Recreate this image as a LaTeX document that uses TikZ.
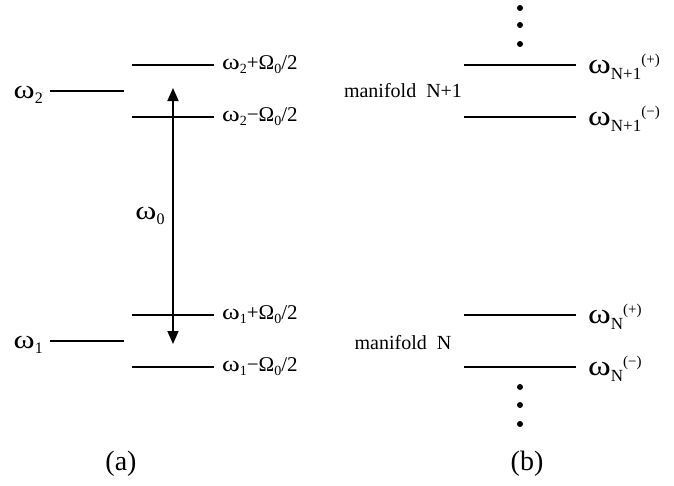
\documentclass[tikz,border=0pt]{standalone}
\usepackage{fontspec}
\usepackage{graphicx}
\setmainfont{Liberation Serif}
\usetikzlibrary{arrows.meta}
\newcommand{\fs}[1]{\fontsize{#1}{#1}\selectfont}
\newcommand{\om}{\scalebox{1.28}[1.05]{ω}}
\newcommand{\lsub}[1]{\raisebox{-4pt}{\fs{14}#1}}
\newcommand{\bsub}[1]{\raisebox{-6pt}{\fs{17}#1}}
\newcommand{\bsup}[1]{\raisebox{9pt}{\fs{15}#1}}
\tikzset{
  thick level/.style={line width=2.8pt},
  thin level/.style={line width=2.0pt},
  lbl/.style={anchor=west, inner sep=0pt, font=\fs{21}},
  rlbl/.style={anchor=west, inner sep=0pt, font=\fs{27}},
  mani/.style={inner sep=0pt, font=\fs{20}},
  dot/.style={circle, fill=black, inner sep=0pt, minimum size=6pt},
  trans/.style={line width=1.7pt, {Triangle[length=13pt,width=11pt]}-{Triangle[length=13pt,width=11pt]}},
  capt/.style={inner sep=0pt, font=\fs{28}}
}
\begin{document}
\begin{tikzpicture}[x=1pt,y=-1pt]
\useasboundingbox (0,0) rectangle (674,485);
% ---- (a) ----
\coordinate (u1) at (132,65);  \coordinate (u2) at (214,65);
\coordinate (w2a) at (50,91);  \coordinate (w2b) at (124,91);
\coordinate (l1) at (132,117); \coordinate (l2) at (214,117);
\coordinate (p1) at (132,315); \coordinate (p2) at (214,315);
\coordinate (w1a) at (50,341); \coordinate (w1b) at (124,341);
\coordinate (m1) at (132,367); \coordinate (m2) at (214,367);
\draw[thick level] (u1) -- (u2);
\draw[thin level] (w2a) -- (w2b);
\draw[thin level] (l1) -- (l2);
\draw[thick level] (p1) -- (p2);
\draw[thin level] (w1a) -- (w1b);
\draw[thin level] (m1) -- (m2);
\coordinate (atop) at (173,88);
\coordinate (abot) at (173,344);
\draw[trans] (abot) -- (atop);
\node[lbl] (lu) at ([xshift=8pt]u2) {\om\lsub{2}+Ω\lsub{0}/2};
\node[lbl] (ll) at ([xshift=8pt]l2) {\om\lsub{2}−Ω\lsub{0}/2};
\node[lbl] (lp) at ([xshift=8pt]p2) {\om\lsub{1}+Ω\lsub{0}/2};
\node[lbl] (lm) at ([xshift=8pt]m2) {\om\lsub{1}−Ω\lsub{0}/2};
\node[inner sep=0pt, font=\fs{25}, anchor=east] (w2) at ([xshift=-7pt,yshift=-4pt]w2a) {\om\raisebox{-5pt}{\fs{16}2}};
\node[inner sep=0pt, font=\fs{25}, anchor=east] (w1) at ([xshift=-7pt,yshift=-4pt]w1a) {\om\raisebox{-5pt}{\fs{16}1}};
\node[inner sep=0pt, font=\fs{25}] (w0) at (150,216) {\om\raisebox{-5pt}{\fs{16}0}};
% ---- (b) ----
\coordinate (a1) at (464,65);  \coordinate (a2) at (576,65);
\coordinate (b1) at (464,117); \coordinate (b2) at (576,117);
\coordinate (c1) at (464,315); \coordinate (c2) at (576,315);
\coordinate (d1) at (464,367); \coordinate (d2) at (576,367);
\draw[thick level] (a1) -- (a2);
\draw[thin level] (b1) -- (b2);
\draw[thick level] (c1) -- (c2);
\draw[thin level] (d1) -- (d2);
\node[rlbl] (la) at ([xshift=12pt,yshift=-2pt]a2) {\om\bsub{N+1}\bsup{(+)}};
\node[rlbl] (lb) at ([xshift=12pt,yshift=-2pt]b2) {\om\bsub{N+1}\bsup{(−)}};
\node[rlbl] (lc) at ([xshift=12pt,yshift=-2pt]c2) {\om\bsub{N}\bsup{(+)}};
\node[rlbl] (ld) at ([xshift=12pt,yshift=-2pt]d2) {\om\bsub{N}\bsup{(−)}};
\node[mani] (mN1) at (403,91) {manifold\ \ N+1};
\node[mani] (mN) at (403,343) {manifold\ \ N};
\node[dot] (t1) at (520,8) {};
\node[dot] (t2) at (520,25) {};
\node[dot] (t3) at (520,44) {};
\node[dot] (s1) at (520,387) {};
\node[dot] (s2) at (520,405) {};
\node[dot] (s3) at (520,424) {};
% captions
\node[capt] (ca) at (121,464) {(a)};
\node[capt] (cb) at (527,464) {(b)};
\end{tikzpicture}
\end{document}
